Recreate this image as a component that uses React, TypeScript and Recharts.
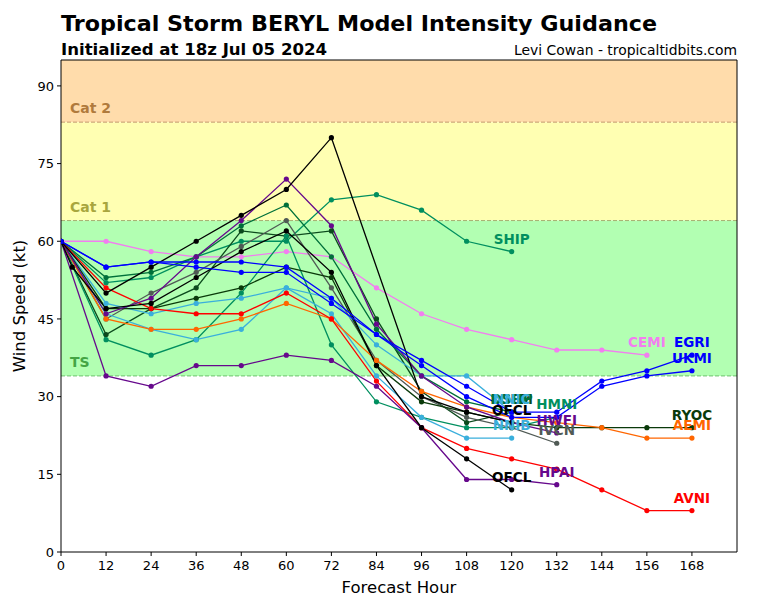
import React from 'react';
import { LineChart, Line, XAxis, YAxis, ReferenceArea, ReferenceLine, LabelList } from 'recharts';

const HOURS = [0, 3, 12, 24, 36, 48, 60, 72, 84, 96, 108, 120, 132, 144, 156, 168];
const X_TICKS = [0, 12, 24, 36, 48, 60, 72, 84, 96, 108, 120, 132, 144, 156, 168];
const Y_TICKS = [0, 15, 30, 45, 60, 75, 90];

const _ = null;
const CEMI = [60, _, 60, 58, 57, 57, 58, 57, 51, 46, 43, 41, 39, 39, 38, _];
const EGRI = [60, _, 55, 56, 56, 56, 55, 49, 42, 37, 32, 27, 27, 33, 35, 38];
const UKMI = [60, _, 55, 56, 55, 54, 54, 48, 42, 36, 30, 26, 26, 32, 34, 35];
const AVNI = [60, _, 51, 47, 46, 46, 50, 45, 33, 24, 20, 18, 16, 12, 8, 8];
const AEMI = [60, _, 45, 43, 43, 45, 48, 45, 37, 31, 28, 26, 25, 24, 22, 22];
const RYOC = [60, _, 47, 47, 49, 51, 55, 53, 36, 29, 27, 25, 24, 24, 24, 24];
const HPAI = [60, _, 34, 32, 36, 36, 38, 37, 32, 24, 14, 14, 13, _, _, _];
const HWFI = [60, _, 46, 49, 57, 64, 72, 63, 44, 34, 28, 25, 23, _, _, _];
const OFCL_A = [60, _, 50, 55, 60, 65, 70, 80, _, 30, 27, 25, _, _, _, _];
const OFCL_B = [60, 55, 47, 48, 53, 58, 62, 54, 36, 24, 18, 12, _, _, _, _];
const SHIP = [60, _, 52, 53, 57, 60, 60, 68, 69, 66, 60, 58, _, _, _, _];
const LGEM = [60, _, 42, 47, 51, 62, 61, 62, 45, 31, 25, 27, _, _, _, _];
const DSHP = [60, _, 53, 54, 57, 63, 67, 57, 43, 34, 29, 27, _, _, _, _];
const HMNI = [60, _, 41, 38, 41, 50, 61, 40, 29, 26, 24, 24, 26, _, _, _];
const IVCN = [60, _, 45, 50, 54, 59, 64, 51, 37, 30, 26, 24, 21, _, _, _];
const NNIC = [60, _, 48, 46, 48, 49, 51, 49, 40, 34, 34, 27, _, _, _, _];
const NNIB = [60, _, 46, 43, 41, 43, 51, 46, 34, 26, 22, 22, _, _, _, _];

type Model = { name: string; color: string; values: (number | null)[] };

const MODELS: Model[] = [
  { name: 'CEMI', color: '#f27ef0', values: CEMI },
  { name: 'SHIP', color: '#008f5f', values: SHIP },
  { name: 'LGEM', color: '#0b4a1c', values: LGEM },
  { name: 'DSHP', color: '#00703a', values: DSHP },
  { name: 'HMNI', color: '#008f5f', values: HMNI },
  { name: 'IVCN', color: '#505a55', values: IVCN },
  { name: 'NNIC', color: '#3aafdc', values: NNIC },
  { name: 'NNIB', color: '#3aafdc', values: NNIB },
  { name: 'RYOC', color: '#0a3a0a', values: RYOC },
  { name: 'AEMI', color: '#ff6600', values: AEMI },
  { name: 'AVNI', color: '#ff0000', values: AVNI },
  { name: 'HPAI', color: '#66088c', values: HPAI },
  { name: 'HWFI', color: '#66088c', values: HWFI },
  { name: 'OFCL', color: '#000000', values: OFCL_B },
  { name: 'OFCL', color: '#000000', values: OFCL_A },
  { name: 'UKMI', color: '#0000ff', values: UKMI },
  { name: 'EGRI', color: '#0000ff', values: EGRI },
];

const rowsOf = (values: (number | null)[]) =>
  HOURS.map((h, i) => ({ x: h, y: values[i] })).filter((d) => d.y !== null);

const FONT = 'DejaVu Sans, sans-serif';

export default function App() {
  return (
    <div style={{ position: 'relative', width: 752, height: 592, fontFamily: FONT }}>
      <LineChart width={752} height={592} margin={{ top: 52, right: 23, left: 0, bottom: 18 }}>
        <XAxis
          dataKey="x"
          type="number"
          domain={[0, 180]}
          ticks={X_TICKS}
          allowDataOverflow
          height={30}
          tickSize={4}
          tickMargin={5}
          stroke="#000"
          tick={{ fill: '#000', fontSize: 13, fontFamily: FONT }}
        />
        <YAxis
          type="number"
          domain={[0, 95]}
          ticks={Y_TICKS}
          allowDataOverflow
          width={53}
          tickSize={4}
          tickMargin={3}
          stroke="#000"
          tick={{ fill: '#000', fontSize: 13, fontFamily: FONT }}
        />
        <ReferenceArea
          y1={83}
          y2={95}
          fill="#ffdcab"
          fillOpacity={1}
          stroke="none"
          label={{ value: 'Cat 2', position: 'insideBottomLeft', offset: 9, fill: '#b07a3c', fontSize: 14, fontWeight: 'bold', fontFamily: FONT }}
        />
        <ReferenceArea
          y1={64}
          y2={83}
          fill="#ffffb2"
          fillOpacity={1}
          stroke="none"
          label={{ value: 'Cat 1', position: 'insideBottomLeft', offset: 9, fill: '#a8a63e', fontSize: 14, fontWeight: 'bold', fontFamily: FONT }}
        />
        <ReferenceArea
          y1={34}
          y2={64}
          fill="#b2ffb2"
          fillOpacity={1}
          stroke="none"
          label={{ value: 'TS', position: 'insideBottomLeft', offset: 9, fill: '#44a544', fontSize: 14, fontWeight: 'bold', fontFamily: FONT }}
        />
        <ReferenceLine y={83} stroke="#c49a6a" strokeDasharray="4 2" />
        <ReferenceLine y={64} stroke="#a8b070" strokeDasharray="4 2" />
        <ReferenceLine y={34} stroke="#70c070" strokeDasharray="4 2" />
        <ReferenceLine y={95} stroke="#000" />
        <ReferenceLine x={180} stroke="#000" />
        {MODELS.map((m, k) => {
          const rows = rowsOf(m.values);
          const last = rows.length - 1;
          return (
            <Line
              key={m.name + k}
              data={rows}
              dataKey="y"
              type="linear"
              stroke={m.color}
              strokeWidth={1.3}
              dot={{ r: 2.6, fill: m.color, stroke: m.color, strokeWidth: 0 }}
              activeDot={false}
              isAnimationActive={false}
            >
              <LabelList
                dataKey="y"
                content={(p: any) =>
                  p.index === last ? (
                    <text
                      x={p.x}
                      y={p.y - 8}
                      textAnchor="middle"
                      fill={m.color}
                      fontSize={13.5}
                      fontWeight="bold"
                      fontFamily={FONT}
                    >
                      {m.name}
                    </text>
                  ) : null
                }
              />
            </Line>
          );
        })}
      </LineChart>
      <svg width={752} height={592} style={{ position: 'absolute', left: 0, top: 0, pointerEvents: 'none' }}>
        <text x={53} y={23} fontSize={22} fontWeight="bold" fontFamily={FONT} fill="#000" textLength={596} lengthAdjust="spacingAndGlyphs">
          Tropical Storm BERYL Model Intensity Guidance
        </text>
        <text x={53} y={47} fontSize={16} fontWeight="bold" fontFamily={FONT} fill="#000" textLength={266} lengthAdjust="spacingAndGlyphs">
          Initialized at 18z Jul 05 2024
        </text>
        <text x={729} y={47} fontSize={14} fontFamily={FONT} fill="#000" textAnchor="end" textLength={223} lengthAdjust="spacingAndGlyphs">
          Levi Cowan - tropicaltidbits.com
        </text>
        <text x={11} y={298} fontSize={16.5} fontFamily={FONT} fill="#000" textAnchor="middle" dominantBaseline="central" transform="rotate(-90, 11, 298)">
          Wind Speed (kt)
        </text>
        <text x={391} y={585} fontSize={16.5} fontFamily={FONT} fill="#000" textAnchor="middle">
          Forecast Hour
        </text>
      </svg>
    </div>
  );
}
